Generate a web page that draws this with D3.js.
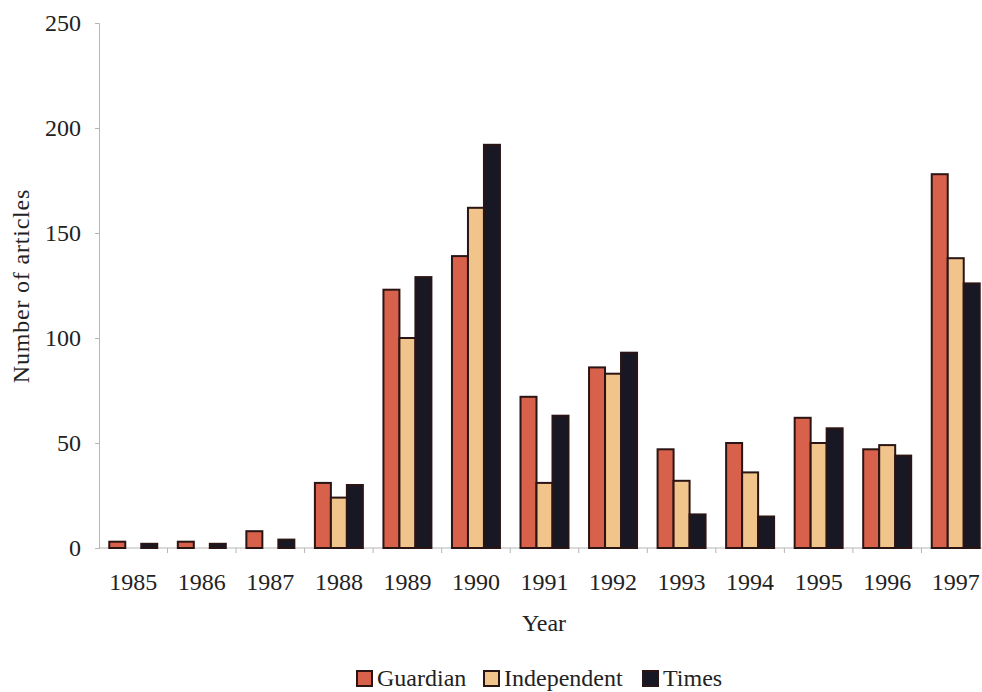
<!DOCTYPE html>
<html>
<head>
<meta charset="utf-8">
<script src="https://cdn.jsdelivr.net/npm/d3@7"></script>
<style>
  html, body { margin: 0; padding: 0; background: #fff; overflow: hidden; }
  svg { display: block; }
  text { font-family: "Liberation Serif", "Times New Roman", serif; fill: #222; }
</style>
</head>
<body>
<script>
// data
var years = ["1985", "1986", "1987", "1988", "1989", "1990", "1991", "1992", "1993", "1994", "1995", "1996", "1997"];
var papers = ["Guardian", "Independent", "Times"];
var guardian = [3, 3, 8, 31, 123, 139, 72, 86, 47, 50, 62, 47, 178];
var independent = [0, 0, 0, 24, 100, 162, 31, 83, 32, 36, 50, 49, 138];
var times = [2, 2, 4, 30, 129, 192, 63, 93, 16, 15, 57, 44, 126];
var yTicks = [0, 50, 100, 150, 200, 250];

var width = 982;
var height = 692;
var margin = {top: 23, right: -8, bottom: 144, left: 99};
var innerWidth = width - margin.left - margin.right;
var innerHeight = height - margin.top - margin.bottom;

var colors = ["#d8614b", "#f1c48c", "#181824"];
var seriesValues = [guardian, independent, times];

var rows = years.map((y, i) => ({
    year: y,
    values: papers.map((p, j) => ({paper: p, value: seriesValues[j][i]}))
}));

//Scales
var x0 = d3.scaleBand()
    .domain(years)
    .range([0, innerWidth]);

var x1 = d3.scaleBand()
    .domain(papers)
    .range([x0.bandwidth() * 0.15, x0.bandwidth() * 0.85]);

var y = d3.scaleLinear()
    .domain([0, 250])
    .range([innerHeight, 0]);

var color = d3.scaleOrdinal()
    .domain(papers)
    .range(colors);

//Canvas
var svg = d3.select("body")
    .append("svg")
        .attr("width", width)
        .attr("height", height);

var g = svg.append("g")
    .attr("transform", "translate(" + margin.left + ", " + margin.top + ")");

//Axes
var leftAxis = d3.axisLeft(y)
    .tickValues(yTicks)
    .tickSize(4)
    .tickPadding(14);
var yAxis = g.append("g")
    .attr("class", "y-axis")
    .call(leftAxis);
yAxis.select(".domain").attr("stroke", "#b5b5b5");
yAxis.selectAll(".tick line").attr("stroke", "#b5b5b5");
yAxis.selectAll("text")
    .attr("font-size", "24px")
    .attr("fill", "#222");

// x axis: ticks at category boundaries
var xAxis = g.append("g")
    .attr("class", "x-axis")
    .attr("transform", "translate(0, " + innerHeight + ")");
xAxis.append("line")
    .attr("x1", 0)
    .attr("x2", innerWidth)
    .attr("stroke", "#b5b5b5");
xAxis.selectAll(".sep")
    .data(years.slice(1))
    .enter()
    .append("line")
        .attr("class", "sep")
        .attr("x1", d => x0(d))
        .attr("x2", d => x0(d))
        .attr("y1", 0)
        .attr("y2", 5)
        .attr("stroke", "#b5b5b5");
xAxis.selectAll(".lbl")
    .data(years)
    .enter()
    .append("text")
        .attr("class", "lbl")
        .attr("x", d => x0(d) + x0.bandwidth() / 2)
        .attr("y", 42)
        .attr("text-anchor", "middle")
        .attr("font-size", "24px")
        .text(d => d);

//Axis labels
g.append("text")
    .attr("x", 544 - margin.left)
    .attr("y", innerHeight + 83)
    .attr("text-anchor", "middle")
    .attr("font-size", "24px")
    .text("Year");

g.append("text")
    .attr("transform", "rotate(-90)")
    .attr("x", -(286 - margin.top))
    .attr("y", -margin.left + 29)
    .attr("text-anchor", "middle")
    .attr("font-size", "24px")
    .attr("letter-spacing", "0.8px")
    .text("Number of articles");

//Bars
var groups = g.selectAll(".year")
    .data(rows)
    .enter()
    .append("g")
        .attr("class", "year")
        .attr("transform", d => "translate(" + x0(d.year) + ", 0)");

groups.selectAll("rect")
    .data(d => d.values.filter(v => v.value > 0))
    .enter()
    .append("rect")
        .attr("x", d => x1(d.paper))
        .attr("y", d => y(d.value))
        .attr("width", x1.bandwidth())
        .attr("height", d => innerHeight - y(d.value))
        .attr("fill", d => color(d.paper))
        .attr("stroke", "#2a1414")
        .attr("stroke-width", 2);

//Legend
var legendX = [357, 484, 643];
var legend = svg.selectAll(".legend")
    .data(papers)
    .enter()
    .append("g")
        .attr("class", "legend")
        .attr("transform", (d, i) => "translate(" + legendX[i] + ", 671)");
legend.append("rect")
    .attr("width", 15)
    .attr("height", 15)
    .attr("fill", d => color(d))
    .attr("stroke", "#2a1414")
    .attr("stroke-width", 2);
legend.append("text")
    .attr("x", 20)
    .attr("y", 15)
    .attr("font-size", "24px")
    .text(d => d);
</script>
</body>
</html>
